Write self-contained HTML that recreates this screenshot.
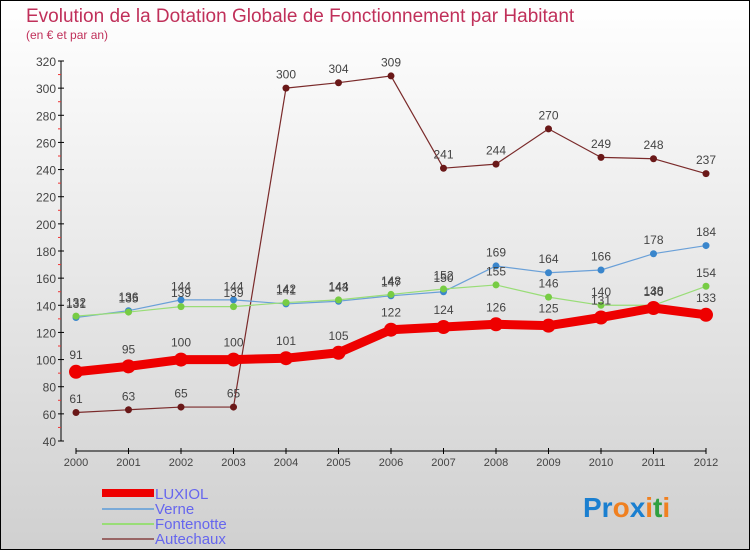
<!DOCTYPE html>
<html><head><meta charset="utf-8"><style>
body{margin:0}
#c{width:750px;height:550px;position:relative;font-family:"Liberation Sans",sans-serif;background:linear-gradient(#ffffff,#d0d0d0);box-sizing:border-box;border:1px solid #000;overflow:hidden}
</style></head><body>
<div id="c">
<svg id="s" width="750" height="550" style="position:absolute;left:-1px;top:-1px">
<text x="26" y="22" font-size="19" fill="#c0305a">Evolution de la Dotation Globale de Fonctionnement par Habitant</text>
<text x="26" y="39" font-size="12" fill="#c0305a">(en € et par an)</text>
<g id="axes"></g><g id="series"></g>
<g font-size="15" fill="#6666ee">
<rect x="102" y="489" width="52" height="8" fill="#ee0000"/>
<text x="155" y="499">LUXIOL</text>
<rect x="102" y="508" width="52" height="2" fill="#7aaad8"/>
<text x="155" y="514">Verne</text>
<rect x="102" y="523" width="52" height="2" fill="#99dd77"/>
<text x="155" y="529">Fontenotte</text>
<rect x="102" y="538" width="52" height="2" fill="#996666"/>
<text x="155" y="544">Autechaux</text>
</g>
<text x="583" y="517" font-size="28" font-weight="bold"><tspan fill="#1a7fd0">Pr</tspan><tspan fill="#f08020">o</tspan><tspan fill="#1a7fd0">x</tspan><tspan fill="#f08020">i</tspan><tspan fill="#30a040">t</tspan><tspan fill="#f08020">i</tspan></text>
</svg></div>
<script>
const years=[2000,2001,2002,2003,2004,2005,2006,2007,2008,2009,2010,2011,2012];
const yTicks=[40,60,80,100,120,140,160,180,200,220,240,260,280,300,320];
const luxiol=[91,95,100,100,101,105,122,124,126,125,131,138,133];
const verne=[131,136,144,144,141,143,147,150,169,164,166,178,184];
const fontenotte=[132,135,139,139,142,144,148,152,155,146,140,140,154];
const autechaux=[61,63,65,65,300,304,309,241,244,270,249,248,237];
const NS="http://www.w3.org/2000/svg";
function X(i){return 76+i*(706-76)/(years.length-1);}
function Y(v){return 441-(v-40)*(380/280);}
function mk(t,a,p){const e=document.createElementNS(NS,t);for(const k in a)e.setAttribute(k,a[k]);p.appendChild(e);return e;}
const ax=document.getElementById('axes');
const yl=mk('line',{x1:61,y1:Y(320),x2:61,y2:Y(40),stroke:'#000'},ax);


const xl=mk('line',{x1:76,y1:451,x2:706,y2:451,stroke:'#000'},ax);


yTicks.forEach((v,i)=>{
 mk('line',{x1:58,x2:64,y1:Y(v),y2:Y(v),stroke:'#000'},ax);
 if(i<yTicks.length-1)mk('line',{x1:58,x2:61,y1:Y(v+10),y2:Y(v+10),stroke:'#e33'},ax);
 const t=mk('text',{x:56,y:Y(v)+5,'text-anchor':'end','font-size':12,fill:'#444'},ax);
 t.textContent=v;
 
 
});
years.forEach((y,i)=>{
 mk('line',{x1:X(i),x2:X(i),y1:448,y2:454,stroke:'#000'},ax);
 const t=mk('text',{x:X(i),y:466,'text-anchor':'middle','font-size':11,fill:'#444'},ax);
 t.textContent=y;
 
 
});
const sg=document.getElementById('series');
function draw(data,name,color,w,r,dot){
 const g=mk('g',{},sg);
 
 
 const pl=mk('polyline',{points:data.map((v,i)=>X(i)+','+Y(v)).join(' '),fill:'none',stroke:color,'stroke-width':w,'stroke-linejoin':'round'},g);
 
 
 data.forEach((v,i)=>{
  const c=mk('circle',{cx:X(i),cy:Y(v),r:r,fill:dot},g);
  
  
  const t=mk('text',{x:X(i),y:Y(v)-r-6,'text-anchor':'middle','font-size':12,fill:'#444'},g);
  t.textContent=v;
  
  
 });
}
draw(autechaux,'autechaux','#7a2a2a',1.2,3.5,'#6a1818');
draw(verne,'verne','#6aa0d8',1.2,3.5,'#3a86cc');
draw(fontenotte,'fontenotte','#99dd77',1.2,3.5,'#77cc44');
draw(luxiol,'luxiol','#ee0000',9,7,'#ee0000');
</script>
</body></html>
